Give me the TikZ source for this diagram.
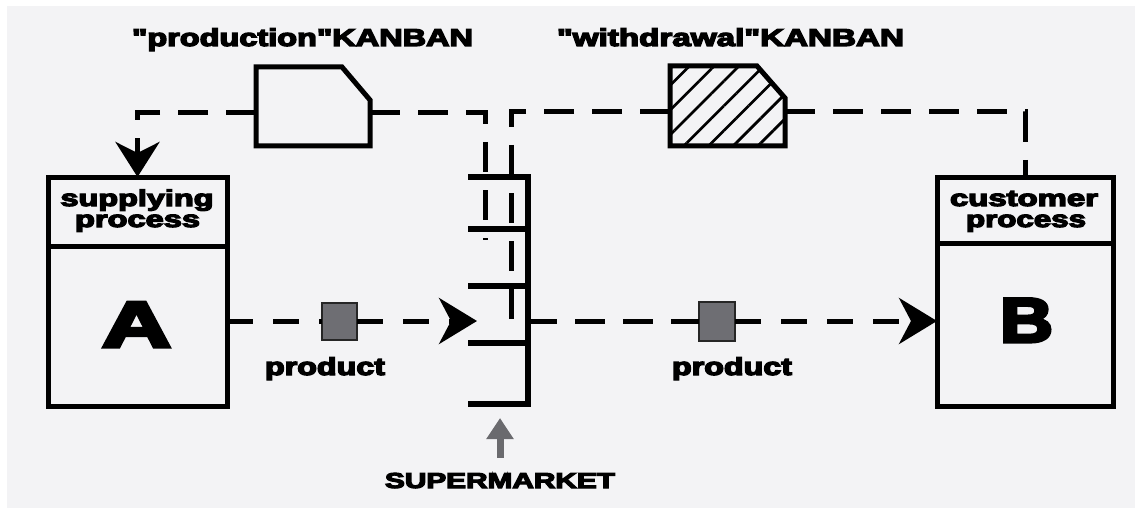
\documentclass[tikz,border=0pt]{standalone}
\usepackage{fontspec}
\usepackage{graphicx}
\usetikzlibrary{arrows.meta,patterns.meta}
\newfontfamily\heavy{Liberation Sans}[BoldFeatures={FakeBold=5}]
\newcommand\fitw[2]{\resizebox{#1}{\height}{#2}}
\definecolor{bgcol}{HTML}{F3F3F5}
\definecolor{sqgray}{HTML}{6E6E73}
\definecolor{arrowgray}{HTML}{6A6A6E}
\begin{document}
\begin{tikzpicture}[x=1pt,y=-1pt,
  box/.style={draw, line width=5pt, rectangle, inner sep=0pt, outer sep=0pt},
  card/.style={rectangle, inner sep=0pt, outer sep=0pt},
  sq/.style={draw=black!85, line width=2pt, fill=sqgray, rectangle, inner sep=0pt, outer sep=0pt, minimum width=35pt, minimum height=37pt},
  kdash/.style={line width=5pt, dash pattern=on 30pt off 18pt},
  pdash/.style={line width=5pt, dash pattern=on 26pt off 20pt},
  shelf/.style={line width=5.5pt},
  bigarrow/.style={-{Stealth[length=38pt,width=46pt,inset=12pt]}},
  title/.style={inner sep=0pt, anchor=base, font=\heavy\bfseries\fontsize{24.4pt}{28pt}\selectfont},
  small/.style={inner sep=0pt, anchor=base, font=\heavy\bfseries\fontsize{23pt}{26pt}\selectfont},
  big/.style={inner sep=0pt, anchor=base, font=\heavy\bfseries\fontsize{65pt}{70pt}\selectfont}
]
\useasboundingbox (0,0) rectangle (1135,508);
\fill[white] (0,0) rectangle (1135,508);
\fill[bgcol] (7,6) rectangle (1135,508);

% process boxes
\node[box, minimum width=179pt, minimum height=229pt] (sup) at (137.5,291.5) {};
\draw[line width=5pt] ([yshift=-69pt]sup.north west) -- ([yshift=-69pt]sup.north east);
\node[box, minimum width=176pt, minimum height=229pt] (cus) at (1025,291.5) {};
\draw[line width=5pt] ([yshift=-66pt]cus.north west) -- ([yshift=-66pt]cus.north east);

% kanban cards
\node[card, minimum width=114pt, minimum height=79pt] (pk) at (313,106.5) {};
\draw[line width=5pt] (pk.north west) -- ([xshift=-28pt]pk.north east) -- ([yshift=-33pt]pk.north east) -- (pk.south east) -- (pk.south west) -- cycle;
\node[card, minimum width=115pt, minimum height=80pt] (wk) at (727.5,106) {};
\draw[line width=5pt, pattern={Lines[angle=45,distance=17.5pt,line width=2.8pt]}] (wk.north west) -- ([xshift=-28pt]wk.north east) -- ([yshift=-32pt]wk.north east) -- (wk.south east) -- (wk.south west) -- cycle;

% supermarket shelves
\draw[shelf] (468,177) -- (528,177) -- (528,404) -- (468,404);
\foreach \y in {229,286,343} \draw[shelf] (468,\y) -- (528,\y);

\coordinate (pkfoot) at (485,240);
\coordinate (hook) at (511,321);
\coordinate (smin) at (477,321);
\coordinate (smtip) at (500,418);

% products
\node[sq] (p1) at (339.5,321) {};
\node[sq, minimum width=36pt, minimum height=39pt] (p2) at (717,321) {};

% kanban loops
\draw[kdash, -{Stealth[length=35pt,width=44pt,inset=11pt]}] ([yshift=-6.5pt]pk.west) -| (sup.north);
\draw[kdash] ([yshift=-6.5pt]pk.east) -| (pkfoot);
\draw[kdash] ([yshift=-6pt]wk.east) -| (cus.north);
\draw[kdash] ([yshift=-6pt]wk.west) -| (hook) -- (p2);

% product flows
\draw[pdash, bigarrow] (p2) -- (p2 -| cus.west);
\draw[pdash] (sup.east |- p1) -- (p1);
\draw[pdash, bigarrow] (p1) -- (smin);

% labels
\node[title] (prodlbl) at (302.5,46) {\fitw{341pt}{"production"KANBAN}};
\node[title] (wdlbl) at (730.5,46) {\fitw{347pt}{"withdrawal"KANBAN}};
\node[small] (sup1) at (137,206) {\fitw{153pt}{supplying}};
\node[small] (sup2) at (137.5,227) {\fitw{125pt}{process}};
\node[small] (cus1) at (1024,206) {\fitw{148pt}{customer}};
\node[small] (cus2) at (1026,227) {\fitw{120pt}{process}};
\node[small, font=\heavy\bfseries\fontsize{24.5pt}{28pt}\selectfont] (prod1) at (325,375) {\fitw{120pt}{product}};
\node[small, font=\heavy\bfseries\fontsize{24.5pt}{28pt}\selectfont] (prod2) at (732,375) {\fitw{120pt}{product}};
\node[big] (A) at (136.5,347) {\fitw{69pt}{A}};
\node[big, font=\heavy\bfseries\fontsize{63pt}{68pt}\selectfont] (B) at (1026.5,342) {\fitw{53pt}{B}};
\node[inner sep=0pt, anchor=base, font=\heavy\bfseries\fontsize{21.6pt}{24pt}\selectfont] (smlbl) at (500,488) {\fitw{230pt}{SUPERMARKET}};

\draw[line width=7pt, draw=arrowgray, -{Triangle[length=21pt,width=26pt]}] ([yshift=15pt]smlbl.north) -- (smtip);
\end{tikzpicture}
\end{document}
